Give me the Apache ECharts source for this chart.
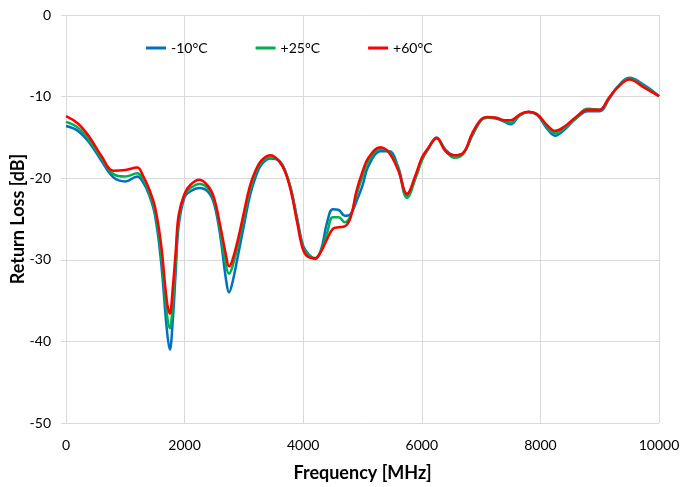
<!DOCTYPE html>
<html>
<head>
<meta charset="utf-8">
<script src="https://cdn.jsdelivr.net/npm/echarts@6/dist/echarts.min.js"></script>
<style>
  html, body { margin: 0; padding: 0; background: #fff; }
  #main { width: 680px; height: 487px; }
</style>
</head>
<body>
<div id="main"></div>
<script>
// frequency points (MHz)
var freqs = [0, 200, 400, 600, 800, 1000, 1200, 1300, 1400, 1500, 1600, 1700, 1750, 1800, 1850, 1900,
  2000, 2100, 2250, 2400, 2500, 2600, 2700, 2750, 2800, 2900, 3000, 3100, 3200, 3300, 3450, 3600,
  3700, 3800, 3900, 4000, 4100, 4200, 4300, 4400, 4500, 4600, 4700, 4800, 4900, 5000, 5100, 5300,
  5450, 5600, 5750, 5900, 6000, 6100, 6250, 6400, 6550, 6700, 6850, 7000, 7100, 7250, 7400, 7500,
  7650, 7800, 7950, 8100, 8250, 8400, 8600, 8800, 9000, 9150, 9300, 9500, 9750, 10000];

// return loss (dB) per temperature
var rlMinus10 = [-13.6, -14.2, -15.7, -17.9, -19.9, -20.4, -19.8, -20.5, -22.0, -24.5, -30.0, -38.5, -41.0, -37.5, -31.5, -25.8,
  -22.3, -21.6, -21.2, -21.7, -23.2, -27.0, -32.5, -34.0, -33.0, -29.5, -25.8, -22.2, -19.8, -18.3, -17.6, -17.9,
  -19.2, -21.5, -25.0, -28.3, -29.4, -29.9, -28.8, -25.5, -23.8, -23.9, -24.6, -24.4, -22.8, -20.9, -18.5, -16.7,
  -16.7, -18.6, -22.1, -19.8, -17.8, -16.5, -15.0, -16.5, -17.2, -16.9, -14.8, -12.9, -12.6, -12.7, -13.1, -13.4,
  -12.3, -11.9, -12.3, -13.8, -14.8, -14.1, -12.7, -11.8, -11.8, -10.4, -8.8, -7.7, -8.6, -9.95];

var rlPlus25 = [-13.1, -13.8, -15.4, -17.6, -19.5, -19.8, -19.4, -20.1, -21.7, -24.0, -29.0, -36.5, -38.4, -35.5, -30.3, -25.1,
  -22.0, -21.2, -20.7, -21.3, -22.8, -26.4, -30.8, -31.7, -31.0, -28.2, -24.8, -21.5, -19.3, -18.0, -17.45, -17.9,
  -19.2, -21.6, -25.2, -28.5, -29.5, -29.8, -28.9, -26.8, -24.8, -24.8, -25.4, -24.6, -22.0, -19.8, -17.9, -16.4,
  -16.8, -18.8, -22.4, -19.9, -17.8, -16.5, -15.1, -16.6, -17.5, -17.0, -14.7, -12.9, -12.6, -12.6, -13.0, -13.2,
  -12.3, -11.9, -12.2, -13.6, -14.5, -13.9, -12.6, -11.5, -11.6, -10.3, -8.85, -7.8, -8.75, -9.95];

var rlPlus60 = [-12.4, -13.3, -15.0, -17.3, -19.1, -19.0, -18.7, -19.7, -21.3, -23.5, -27.9, -35.0, -36.6, -33.5, -29.0, -24.5,
  -21.9, -20.8, -20.2, -21.0, -22.5, -25.8, -29.5, -30.8, -30.2, -27.5, -24.2, -21.0, -19.0, -17.8, -17.2, -18.0,
  -19.3, -21.8, -25.5, -28.8, -29.7, -29.8, -29.0, -27.5, -26.2, -26.0, -25.9, -24.8, -21.5, -19.2, -17.5, -16.2,
  -16.9, -19.0, -21.9, -19.5, -17.5, -16.4, -15.1, -16.7, -17.2, -16.9, -14.5, -12.8, -12.5, -12.6, -12.9, -12.9,
  -12.2, -11.85, -12.2, -13.4, -14.2, -13.7, -12.5, -11.6, -11.6, -10.2, -8.9, -7.9, -8.9, -9.95];

var seriesNames = ['-10°C', '+25°C', '+60°C'];
var seriesColors = ['#0070C0', '#00B050', '#FF0000'];
var seriesValues = [rlMinus10, rlPlus25, rlPlus60];

function pairs(vals) {
  return freqs.map(function (f, i) { return [f, vals[i]]; });
}

var chart = echarts.init(document.getElementById('main'));
var font = 'Lato, "Liberation Sans", sans-serif';

chart.setOption({
  animation: false,
  textStyle: { fontFamily: font },
  grid: { left: 66, right: 21, top: 15, bottom: 64, containLabel: false, outerBoundsMode: 'none' },
  legend: {
    left: 141, top: 36,
    icon: 'rect', itemWidth: 20, itemHeight: 3, itemGap: 48,
    textStyle: { fontSize: 14, color: '#000', fontFamily: font },
    data: seriesNames
  },
  xAxis: {
    type: 'value', min: 0, max: 10000, interval: 2000,
    name: 'Frequency [MHz]', nameLocation: 'middle', nameGap: 41, nameMoveOverlap: false,
    nameTextStyle: { fontSize: 18, fontWeight: 'bold', color: '#000', fontFamily: font },
    axisLine: { lineStyle: { color: '#d9d9d9' } },
    axisTick: { show: true, length: 5, lineStyle: { color: '#d9d9d9' } },
    axisLabel: { fontSize: 14, color: '#000', margin: 15, formatter: function (v) { return String(v); } },
    splitLine: { show: true, lineStyle: { color: '#d9d9d9' } }
  },
  yAxis: {
    type: 'value', min: -50, max: 0, interval: 10,
    name: 'Return Loss [dB]', nameLocation: 'middle', nameGap: 39, nameMoveOverlap: false,
    nameTextStyle: { fontSize: 18, fontWeight: 'bold', color: '#000', fontFamily: font },
    axisLine: { show: true, lineStyle: { color: '#d9d9d9' } },
    axisTick: { show: true, length: 5, lineStyle: { color: '#d9d9d9' } },
    axisLabel: { fontSize: 14, color: '#000', margin: 15 },
    splitLine: { show: true, lineStyle: { color: '#d9d9d9' } }
  },
  series: seriesNames.map(function (name, i) {
    return {
      name: name,
      type: 'line',
      data: pairs(seriesValues[i]),
      smooth: 0.4,
      showSymbol: false,
      symbol: 'none',
      color: seriesColors[i],
      lineStyle: { width: 2.5, color: seriesColors[i] }
    };
  })
});
</script>
</body>
</html>
